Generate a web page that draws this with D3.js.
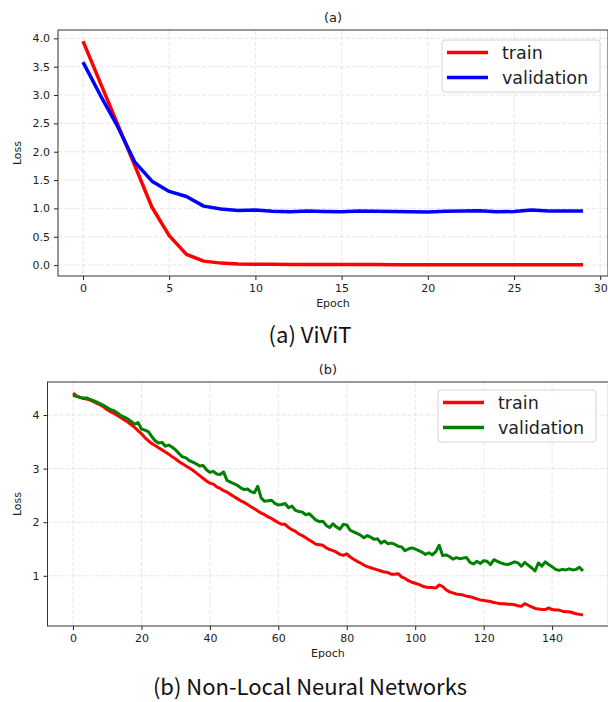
<!DOCTYPE html>
<html>
<head>
<meta charset="utf-8">
<script src="https://cdn.jsdelivr.net/npm/d3@7/dist/d3.min.js"></script>
<style>
  body { margin: 0; background: #fff; }
  svg { display: block; }
  .tick text { font-family: "DejaVu Sans", sans-serif; font-size: 11px; fill: #222; }
  .tick line { stroke: #222; }
  .caption { font-family: "Noto Sans CJK KR", "Noto Sans", sans-serif; font-size: 22px; fill: #111; }
</style>
</head>
<body>
<div id="chart"></div>
<script>
// ---- data: (a) ViViT ----
const vivitTrain = [3.95, 3.22, 2.49, 1.76, 1.02, 0.52, 0.19, 0.07, 0.035, 0.02,
  0.015, 0.013, 0.012, 0.011, 0.01, 0.01, 0.009, 0.009, 0.008, 0.008,
  0.008, 0.007, 0.007, 0.007, 0.006, 0.006, 0.006, 0.006, 0.005, 0.005];
const vivitVal = [3.58, 3.0, 2.45, 1.82, 1.48, 1.30, 1.21, 1.04, 0.99, 0.965,
  0.97, 0.95, 0.94, 0.955, 0.945, 0.94, 0.955, 0.95, 0.945, 0.94,
  0.935, 0.95, 0.955, 0.96, 0.94, 0.945, 0.97, 0.955, 0.955, 0.955];
const vivitXTicks = [0, 5, 10, 15, 20, 25, 30];
const vivitYTicks = [0.0, 0.5, 1.0, 1.5, 2.0, 2.5, 3.0, 3.5, 4.0];

// ---- data: (b) Non-Local Neural Networks ----
const nlnTrain = [4.41, 4.36, 4.33, 4.31, 4.30, 4.28, 4.25, 4.22, 4.19, 4.15,
  4.10, 4.06, 4.03, 3.99, 3.95, 3.91, 3.87, 3.82, 3.77, 3.71,
  3.65, 3.58, 3.52, 3.47, 3.43, 3.39, 3.35, 3.31, 3.27, 3.22,
  3.18, 3.13, 3.09, 3.05, 3.01, 2.97, 2.92, 2.87, 2.82, 2.77,
  2.73, 2.71, 2.66, 2.63, 2.59, 2.56, 2.52, 2.48, 2.44, 2.40,
  2.37, 2.33, 2.29, 2.25, 2.21, 2.17, 2.14, 2.10, 2.07, 2.03,
  1.99, 1.96, 1.96, 1.90, 1.86, 1.83, 1.78, 1.75, 1.71, 1.67,
  1.63, 1.59, 1.58, 1.57, 1.52, 1.49, 1.47, 1.44, 1.40, 1.38,
  1.41, 1.35, 1.31, 1.27, 1.24, 1.20, 1.17, 1.15, 1.13, 1.11,
  1.09, 1.07, 1.06, 1.03, 1.03, 1.04, 0.98, 0.95, 0.91, 0.88,
  0.86, 0.84, 0.81, 0.79, 0.78, 0.78, 0.77, 0.83, 0.80, 0.74,
  0.70, 0.68, 0.66, 0.65, 0.64, 0.62, 0.61, 0.59, 0.57, 0.55,
  0.54, 0.53, 0.52, 0.50, 0.49, 0.48, 0.48, 0.47, 0.47, 0.46,
  0.44, 0.43, 0.48, 0.45, 0.42, 0.39, 0.38, 0.37, 0.37, 0.40,
  0.37, 0.36, 0.36, 0.34, 0.33, 0.33, 0.31, 0.29, 0.28, 0.27];
const nlnVal = [4.37, 4.35, 4.33, 4.32, 4.32, 4.29, 4.27, 4.24, 4.21, 4.18,
  4.14, 4.10, 4.08, 4.04, 3.99, 3.96, 3.93, 3.88, 3.83, 3.86,
  3.74, 3.72, 3.69, 3.60, 3.52, 3.48, 3.49, 3.42, 3.44, 3.40,
  3.35, 3.28, 3.22, 3.20, 3.15, 3.12, 3.09, 3.05, 3.06, 2.98,
  2.93, 2.95, 2.90, 2.89, 2.94, 2.78, 2.75, 2.72, 2.69, 2.64,
  2.61, 2.62, 2.57, 2.55, 2.67, 2.45, 2.39, 2.40, 2.41, 2.35,
  2.32, 2.33, 2.35, 2.27, 2.30, 2.22, 2.20, 2.19, 2.14, 2.16,
  2.10, 2.04, 2.01, 2.02, 1.94, 1.90, 1.97, 1.91, 1.87, 1.96,
  1.95, 1.85, 1.82, 1.79, 1.76, 1.71, 1.75, 1.72, 1.68, 1.69,
  1.61, 1.65, 1.60, 1.61, 1.59, 1.55, 1.54, 1.47, 1.50, 1.52,
  1.50, 1.47, 1.44, 1.40, 1.43, 1.39, 1.45, 1.57, 1.38, 1.39,
  1.36, 1.31, 1.34, 1.32, 1.33, 1.34, 1.25, 1.22, 1.27, 1.23,
  1.28, 1.27, 1.21, 1.30, 1.27, 1.24, 1.22, 1.21, 1.23, 1.26,
  1.24, 1.18, 1.25, 1.20, 1.15, 1.09, 1.24, 1.18, 1.26, 1.21,
  1.17, 1.12, 1.10, 1.12, 1.11, 1.13, 1.11, 1.12, 1.16, 1.09];
const nlnXTicks = [0, 20, 40, 60, 80, 100, 120, 140];
const nlnYTicks = [1, 2, 3, 4];

const seriesNames = ['train', 'validation'];

const width = 608;
const height = 702;

const svg = d3.select('#chart')
  .append('svg')
  .attr('width', width)
  .attr('height', height);

/**
 * Draw one loss panel (matplotlib-like axes with grid and legend)
 */
function drawPanel(opts) {
  const { train, val, valColor, xTicks, yTicks, yFormat, box, title, caption, legend, lineWidth } = opts;
  const n = train.length;
  const allVals = train.concat(val);
  const yMin = d3.min(allVals);
  const yMax = d3.max(allVals);
  const yPad = (yMax - yMin) * 0.05;
  const xPad = (n - 1) * 0.05;

  const x = d3.scaleLinear()
    .domain([-xPad, n - 1 + xPad])
    .range([box.left, box.right]);
  const y = d3.scaleLinear()
    .domain([yMin - yPad, yMax + yPad])
    .range([box.bottom, box.top]);

  const g = svg.append('g');

  // grid
  g.append('g')
    .selectAll('line')
    .data(xTicks.filter(t => x(t) < box.right))
    .enter()
    .append('line')
    .attr('x1', d => x(d)).attr('x2', d => x(d))
    .attr('y1', box.top).attr('y2', box.bottom)
    .attr('stroke', '#dde0e4')
    .attr('stroke-width', 0.8)
    .attr('stroke-dasharray', '4,2');
  g.append('g')
    .selectAll('line')
    .data(yTicks)
    .enter()
    .append('line')
    .attr('x1', box.left).attr('x2', box.right)
    .attr('y1', d => y(d)).attr('y2', d => y(d))
    .attr('stroke', '#dde0e4')
    .attr('stroke-width', 0.8)
    .attr('stroke-dasharray', '4,2');

  // lines
  const line = d3.line()
    .x((d, i) => x(i))
    .y(d => y(d));
  g.append('path')
    .datum(train)
    .attr('d', line)
    .attr('fill', 'none')
    .attr('stroke', '#ff0000')
    .attr('stroke-width', lineWidth)
    .attr('stroke-linejoin', 'round');
  g.append('path')
    .datum(val)
    .attr('d', line)
    .attr('fill', 'none')
    .attr('stroke', valColor)
    .attr('stroke-width', lineWidth)
    .attr('stroke-linejoin', 'round');

  // axes
  g.append('g')
    .attr('transform', `translate(0,${box.bottom})`)
    .call(d3.axisBottom(x).tickValues(xTicks).tickSize(4).tickPadding(4).tickFormat(d3.format('d')))
    .call(a => a.select('.domain').remove());
  g.append('g')
    .attr('transform', `translate(${box.left},0)`)
    .call(d3.axisLeft(y).tickValues(yTicks).tickSize(4).tickPadding(4).tickFormat(d3.format(yFormat)))
    .call(a => a.select('.domain').remove());

  // spines
  g.append('rect')
    .attr('x', box.left).attr('y', box.top)
    .attr('width', box.right - box.left)
    .attr('height', box.bottom - box.top)
    .attr('fill', 'none')
    .attr('stroke', '#333')
    .attr('stroke-width', 1);

  const cx = (box.left + box.right) / 2;

  // title and axis labels
  g.append('text')
    .attr('x', cx).attr('y', box.top - 8)
    .attr('text-anchor', 'middle')
    .style('font-family', '"DejaVu Sans", sans-serif')
    .style('font-size', '13px')
    .style('fill', '#222')
    .text(title);
  g.append('text')
    .attr('x', cx).attr('y', box.bottom + 31)
    .attr('text-anchor', 'middle')
    .style('font-family', '"DejaVu Sans", sans-serif')
    .style('font-size', '11px')
    .style('fill', '#222')
    .text('Epoch');
  g.append('text')
    .attr('transform', `translate(21,${(box.top + box.bottom) / 2}) rotate(-90)`)
    .attr('text-anchor', 'middle')
    .style('font-family', '"DejaVu Sans", sans-serif')
    .style('font-size', '11px')
    .style('fill', '#222')
    .text('Loss');

  // legend
  const lg = g.append('g').attr('transform', `translate(${legend.x},${legend.y})`);
  lg.append('rect')
    .attr('width', 158).attr('height', 52)
    .attr('rx', 3)
    .attr('fill', 'rgba(255,255,255,0.8)')
    .attr('stroke', '#d4d4d4');
  const colors = ['#ff0000', valColor];
  seriesNames.forEach((name, i) => {
    const ly = 12.5 + i * 25;
    lg.append('line')
      .attr('x1', 5).attr('x2', 46)
      .attr('y1', ly).attr('y2', ly)
      .attr('stroke', colors[i])
      .attr('stroke-width', 3.5);
    lg.append('text')
      .attr('x', 60).attr('y', ly + 6)
      .style('font-family', '"DejaVu Sans", sans-serif')
      .style('font-size', '17.5px')
      .style('fill', '#222')
      .text(name);
  });

  // caption below
  svg.append('text')
    .attr('class', 'caption')
    .attr('x', 310).attr('y', caption.y)
    .attr('text-anchor', 'middle')
    .text(caption.text);
}

drawPanel({
  train: vivitTrain,
  val: vivitVal,
  valColor: '#0000ff',
  xTicks: vivitXTicks,
  yTicks: vivitYTicks,
  yFormat: '.1f',
  box: { left: 58, right: 608, top: 30, bottom: 276 },
  title: '(a)',
  caption: { text: '(a) ViViT', y: 343 },
  legend: { x: 442, y: 40 },
  lineWidth: 3.5
});

drawPanel({
  train: nlnTrain,
  val: nlnVal,
  valColor: '#008000',
  xTicks: nlnXTicks,
  yTicks: nlnYTicks,
  yFormat: 'd',
  box: { left: 47.5, right: 608.4, top: 382, bottom: 626 },
  title: '(b)',
  caption: { text: '(b) Non-Local Neural Networks', y: 695 },
  legend: { x: 438, y: 390 },
  lineWidth: 3
});
</script>
</body>
</html>
